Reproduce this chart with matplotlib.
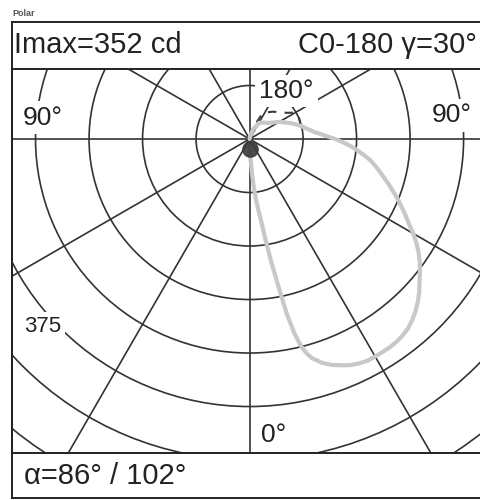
import numpy as np
import matplotlib
matplotlib.use('Agg')
from matplotlib import pyplot as plt
from matplotlib.patches import Circle

plt.rcParams['font.family'] = ['Liberation Sans', 'DejaVu Sans']

# C0-180 plane, gamma measured from nadir (deg) and intensity (cd)
gamma_c0 = [0, 2, 3, 4, 5, 6, 7, 8, 9, 10, 11, 12, 13, 14, 15, 16, 18, 20, 22, 24, 26, 28,
            30, 32, 34, 36, 38, 40, 42, 44, 46, 48, 50, 52, 54, 56, 58, 60, 62, 64, 66, 68,
            70, 72, 74, 76, 78, 80, 82, 84, 86, 88, 90, 93, 96, 100, 105, 111, 120, 130,
            140, 150, 160, 170, 180]
cd_c0 = [10, 22, 30, 48, 67, 85, 100, 115, 143, 175, 208, 250, 280, 300, 312, 320, 330,
         337, 342, 347, 350, 352, 352, 352, 352, 351, 349, 346, 341, 335, 328, 320, 311,
         303, 295, 286, 276, 265, 253, 243, 233, 224, 214, 205, 196, 188, 180, 172, 162,
         152, 142, 131, 120, 104, 92, 82, 73, 62, 48, 35, 30, 26, 14, 5, 0]

# dashed curve (C90-270)
gamma_c90 = [105, 115, 120, 125, 140, 153, 160, 180]
cd_c90 = [74, 76, 74, 64, 50, 41, 20, 0]

circle_cd = [75, 150, 225, 300, 375, 450, 525]
spoke_deg = np.arange(0, 360, 30)

fig = plt.figure(figsize=(4.8, 5.0), dpi=100)
ax = fig.add_axes([12 / 480, 47 / 500, 468 / 480, 384 / 500])
ax.set_xlim(-333.0, 323.0)
ax.set_ylim(-440.0, 98.0)
ax.set_aspect('equal', adjustable='box')
ax.set_xticks([])
ax.set_yticks([])
ax.spines['right'].set_visible(False)
for s in ['left', 'top', 'bottom']:
    ax.spines[s].set_linewidth(1.4)
    ax.spines[s].set_color('#222222')

grid_col = '#333333'
for r in circle_cd:
    ax.add_patch(Circle((0, 0), r, fill=False, ec=grid_col, lw=1.2, zorder=1))
for a in spoke_deg:
    t = np.deg2rad(a)
    ax.plot([0, 1000 * np.sin(t)], [0, -1000 * np.cos(t)], color=grid_col, lw=1.2, zorder=1)

# curves: gamma 0 points down, C0 to the right
g = np.deg2rad(gamma_c90)
ax.plot(np.array(cd_c90) * np.sin(g), -np.array(cd_c90) * np.cos(g),
        color='#3a3a3a', lw=1.5, ls=(0, (4, 4)), zorder=3)
g = np.deg2rad(gamma_c0)
ax.plot(np.array(cd_c0) * np.sin(g), -np.array(cd_c0) * np.cos(g),
        color='#c8c8c8', lw=3, zorder=4, solid_capstyle='round', solid_joinstyle='round')
ax.plot([0], [-14], 'o', ms=11, color='#3a3a3a', alpha=0.9, zorder=5)

box = dict(facecolor='white', edgecolor='none', pad=3)
ax.text(-290, 30, '90°', fontsize=19, ha='center', va='center', color='#222222', bbox=box, zorder=6)
ax.text(283, 33, '90°', fontsize=19, ha='center', va='center', color='#222222', bbox=box, zorder=6)
ax.text(52, 67, '180°', fontsize=19, ha='center', va='center', color='#222222', bbox=box, zorder=6)
ax.text(34, -415, '0°', fontsize=19, ha='center', va='center', color='#222222', zorder=6)
ax.text(-290, -263, '375', fontsize=16, ha='center', va='center', color='#222222', bbox=box, zorder=6)

# header / footer frame
for y in [22, 498]:
    fig.add_artist(plt.Line2D([12 / 480, 1], [1 - y / 500] * 2, color='#222222', lw=1.4))
fig.add_artist(plt.Line2D([12 / 480] * 2, [1 - 22 / 500, 1 - 498 / 500], color='#222222', lw=1.4))

fig.text(12 / 480, 1 - 13 / 500, 'Polar', fontsize=6.5, fontweight='bold', color='#555555',
         va='center', ha='left')
fig.text(14 / 480, 1 - 45 / 500, 'Imax=352 cd', fontsize=21, va='center', ha='left', color='#222222')
fig.text(477 / 480, 1 - 45 / 500, 'C0-180 γ=30°', fontsize=21, va='center', ha='right', color='#222222')
fig.text(24 / 480, 1 - 476 / 500, 'α=86° / 102°', fontsize=21, va='center', ha='left', color='#222222')

plt.savefig('out.png', dpi=100)
